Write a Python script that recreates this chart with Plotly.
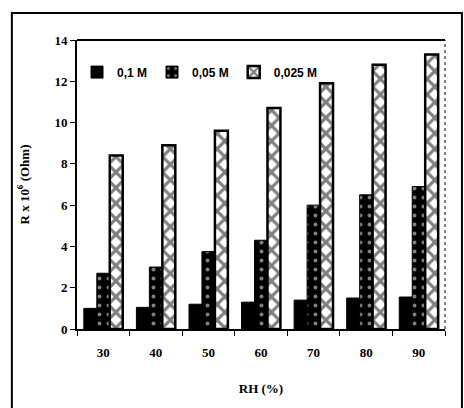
import plotly.graph_objects as go

rh = ["30", "40", "50", "60", "70", "80", "90"]
r_01 = [1.0, 1.05, 1.2, 1.3, 1.4, 1.5, 1.55]
r_005 = [2.7, 3.0, 3.75, 4.3, 6.0, 6.5, 6.9]
r_0025 = [8.4, 8.9, 9.6, 10.7, 11.9, 12.8, 13.3]
names = ["0,1 M", "0,05 M", "0,025 M"]
y_ticks = [0, 2, 4, 6, 8, 10, 12, 14]

fig = go.Figure()
fig.add_bar(x=rh, y=r_01, name=names[0],
            marker=dict(color="black", line=dict(color="black", width=1)))
fig.add_bar(x=rh, y=r_005, name=names[1],
            marker=dict(color="black", line=dict(color="black", width=1),
                        pattern=dict(shape=".", fgcolor="white", bgcolor="black",
                                     size=9, solidity=0.15)))
fig.add_bar(x=rh, y=r_0025, name=names[2],
            marker=dict(color="white", line=dict(color="black", width=2.5),
                        pattern=dict(shape="x", fgcolor="black", bgcolor="white",
                                     size=11, solidity=0.5)))

tickfont = dict(family="Liberation Serif", size=13, color="black", weight="bold")
fig.update_layout(
    width=464, height=408,
    margin=dict(l=77, r=19, t=40, b=79),
    paper_bgcolor="white", plot_bgcolor="white",
    barmode="group", bargap=0.26, bargroupgap=0,
    showlegend=True,
    legend=dict(orientation="h", x=0.0, y=0.889, xanchor="left", yanchor="middle",
                bgcolor="rgba(0,0,0,0)",
                font=dict(family="Liberation Sans", size=12, color="black", weight="bold"),
                itemwidth=30, tracegroupgap=0),
    xaxis=dict(type="category", showline=True, linecolor="black", linewidth=2,
               ticks="outside", ticklen=5, tickcolor="black", tickson="boundaries",
               tickfont=tickfont, showgrid=False, automargin=False, ticklabelstandoff=10,
               title=dict(text="RH (%)", font=dict(family="Liberation Serif", size=13, color="black", weight="bold"), standoff=25)),
    yaxis=dict(range=[0, 14], tickvals=y_ticks, showline=True, linecolor="black", linewidth=2,
               ticks="outside", ticklen=5, tickcolor="black", tickfont=tickfont,
               showgrid=False, zeroline=False, automargin=False,
               title=dict(text="R x 10<sup>6</sup> (Ohm)", font=dict(family="Liberation Serif", size=13, color="black", weight="bold"), standoff=22)),
    shapes=[
        dict(type="line", xref="paper", yref="paper", x0=0, x1=1, y0=1, y1=1,
             line=dict(color="black", width=2)),
        dict(type="line", xref="paper", yref="paper", x0=1, x1=1, y0=0, y1=1,
             line=dict(color="black", width=1, dash="dot")),
        dict(type="rect", xref="paper", yref="paper", x0=-0.177, x1=1.046, y0=-0.35, y1=1.093,
             line=dict(color="black", width=2)),
    ],
)
fig.for_each_trace(lambda t: t.update(hoverinfo="skip"))
fig.write_html("out.html", config={"displayModeBar": False},
               post_script="document.body.style.margin='0';")
